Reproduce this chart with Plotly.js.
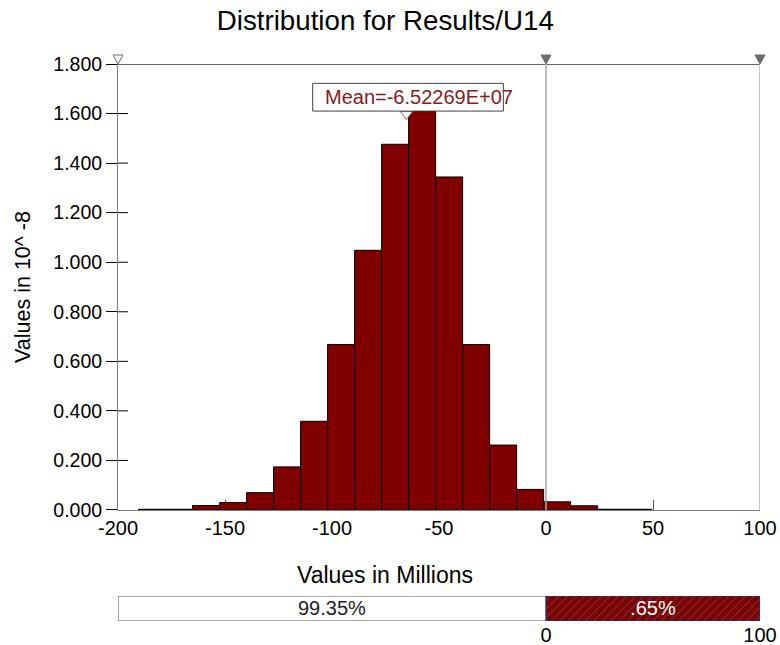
<!DOCTYPE html>
<html>
<head>
<meta charset="utf-8">
<script src="https://cdn.plot.ly/plotly-3.0.1.min.js"></script>
<style>html,body{margin:0;padding:0;background:#fff;}#chart{width:780px;height:645px;}</style>
</head>
<body>
<div id="chart"></div>
<script>
// ---- data ----
const binCenters = [-184.09, -171.47, -158.85, -146.23, -133.61, -120.99, -108.37, -95.75, -83.13, -70.51,
                    -57.89, -45.27, -32.65, -20.03, -7.41, 5.21, 17.83, 30.45, 43.07];
const binDensity = [0.003, 0.003, 0.018, 0.030, 0.070, 0.174, 0.358, 0.668, 1.048, 1.476,
                    1.610, 1.344, 0.668, 0.262, 0.083, 0.033, 0.017, 0.003, 0.003];
const binWidth = 12.62;
const meanValue = -65.2269;
const meanLabel = "Mean=-6.52269E+07";
const axisMin = -200, axisMax = 100;
const delimiters = [0, 100];
const splitLabels = ["99.35%", ".65%"];
const xTickVals = [-200, -150, -100, -50, 0, 50, 100];
const xTickText = ["-200", "-150", "-100", "-50", "0", "50", "100"];
const yTickVals = [0, 0.2, 0.4, 0.6, 0.8, 1.0, 1.2, 1.4, 1.6, 1.8];

const FONT = "Liberation Sans, Arial, sans-serif";
const DARKRED = "#800000";
const MEANBOX_BOTTOM = 1.61, MEANBOX_TOP = 1.722;

const hist = {
  type: "bar", x: binCenters, y: binDensity, width: binCenters.map(() => binWidth),
  marker: {color: DARKRED, line: {color: "#000", width: 1}},
  xaxis: "x", yaxis: "y", hoverinfo: "x+y", showlegend: false
};

const meanMark = {
  type: "scatter", mode: "markers",
  x: [meanValue], y: [1.598],
  marker: {symbol: "triangle-down", size: 11, color: "#fff", line: {color: "#6e6e6e", width: 1}},
  cliponaxis: false, xaxis: "x", yaxis: "y", showlegend: false, hoverinfo: "skip"
};

// probability split bar below the chart (left of first delimiter / between delimiters)
const splitLeft = {
  type: "bar", orientation: "h", y: ["s"],
  base: [axisMin], x: [delimiters[0] - axisMin], width: [1],
  text: [splitLabels[0]], textposition: "inside", insidetextanchor: "middle", constraintext: "none",
  textfont: {family: FONT, size: 20, color: "#222"},
  marker: {color: "#fff", line: {color: "#555", width: 1}},
  xaxis: "x2", yaxis: "y3", showlegend: false, hoverinfo: "skip"
};
const splitRight = {
  type: "bar", orientation: "h", y: ["s"],
  base: [delimiters[0]], x: [delimiters[1] - delimiters[0]], width: [1],
  text: [splitLabels[1]], textposition: "inside", insidetextanchor: "middle", constraintext: "none",
  textfont: {family: FONT, size: 20, color: "#fff"},
  marker: {color: DARKRED, line: {color: "#2a3a7a", width: 1},
           pattern: {shape: "/", fillmode: "overlay", fgcolor: "#4f7894", fgopacity: 0.9, size: 6, solidity: 0.12}},
  xaxis: "x2", yaxis: "y3", showlegend: false, hoverinfo: "skip"
};

function frac(v) { return (v - axisMin) / (axisMax - axisMin); }
function triangle(xv, fill) {
  return {type: "path", xref: "paper", yref: "paper", xsizemode: "pixel", ysizemode: "pixel",
          xanchor: frac(xv), yanchor: 1, path: "M-5,9 L5,9 L0,0 Z",
          fillcolor: fill, line: {color: "#6e6e6e", width: 1}, layer: "above"};
}
function innerTick(yv) {
  return {type: "line", xref: "x", yref: "y", xsizemode: "pixel", xanchor: axisMin,
          x0: 0, x1: 10, y0: yv, y1: yv, line: {color: "#000", width: 1}, layer: "above"};
}

const layout = {
  width: 780, height: 645,
  margin: {l: 118, r: 20, t: 64, b: 24},
  paper_bgcolor: "#fff", plot_bgcolor: "#fff",
  font: {family: FONT, color: "#000"},
  title: {text: "Distribution for Results/U14", font: {size: 27.7, color: "#000"},
          xref: "container", x: 0.494, xanchor: "center", yref: "container", y: 0.969, yanchor: "middle"},
  bargap: 0, barmode: "overlay",
  xaxis: {
    domain: [0, 1], anchor: "y", range: [axisMin, axisMax],
    tickvals: xTickVals, ticktext: xTickText,
    ticks: "inside", ticklen: 10, tickcolor: "#555", tickwidth: 1,
    showline: true, linecolor: "#808080", linewidth: 1,
    showgrid: false, zeroline: false, layer: "below traces",
    tickfont: {size: 20},
    automargin: false
  },
  yaxis: {
    domain: [0.1993, 1], anchor: "x", range: [0, 1.8],
    tickvals: yTickVals, tickformat: ".3f",
    ticks: "outside", ticklen: 11, tickcolor: "#000", tickwidth: 1,
    showline: true, linecolor: "#808080", linewidth: 1,
    showgrid: false, zeroline: false,
    tickfont: {size: 19.5},
    title: {text: "Values in 10^ -8", font: {size: 21.5}, standoff: 16},
    automargin: false
  },
  xaxis2: {
    domain: [0, 1], anchor: "y3", range: [axisMin, axisMax],
    tickvals: delimiters, ticktext: delimiters.map(String),
    ticks: "", showline: false, showgrid: false, zeroline: false,
    tickfont: {size: 20}
  },
  yaxis3: {domain: [0, 0.0449], anchor: "x2", range: [-0.5, 0.5], visible: false, fixedrange: true},
  shapes: [
    {type: "line", xref: "x", yref: "y", x0: axisMin, x1: axisMax, y0: 1.8, y1: 1.8, line: {color: "#333", width: 1.5}},
    {type: "line", xref: "x", yref: "y", x0: delimiters[0], x1: delimiters[0], y0: 0, y1: 1.8, line: {color: "#a8a8a8", width: 1.5}},
    {type: "line", xref: "x", yref: "y", x0: delimiters[1], x1: delimiters[1], y0: 0, y1: 1.8, line: {color: "#b0b0b0", width: 1.5}},
    {type: "rect", xref: "x", yref: "y", x0: meanValue - 43.8, x1: meanValue + 45.3, y0: MEANBOX_BOTTOM, y1: MEANBOX_TOP,
     line: {color: "#444", width: 1}, fillcolor: "#fff", layer: "above"},
    ...yTickVals.slice(1, -1).map(innerTick),
    triangle(axisMin, "#fff"),
    triangle(delimiters[0], "#6e6e6e"),
    triangle(delimiters[1], "#6e6e6e")
  ],
  annotations: [
    {xref: "x", yref: "y", x: meanValue - 39.1, y: 1.666, xanchor: "left", yanchor: "middle",
     text: meanLabel, showarrow: false, font: {size: 20, color: "#8b1a1a"}},
    {xref: "paper", yref: "paper", x: 0.416, y: 0.0826, xanchor: "center", yanchor: "middle",
     text: "Values in Millions", showarrow: false, font: {size: 23, color: "#000"}}
  ]
};

Plotly.newPlot("chart", [hist, meanMark, splitLeft, splitRight], layout, {displayModeBar: false, staticPlot: true});
</script>
</body>
</html>
